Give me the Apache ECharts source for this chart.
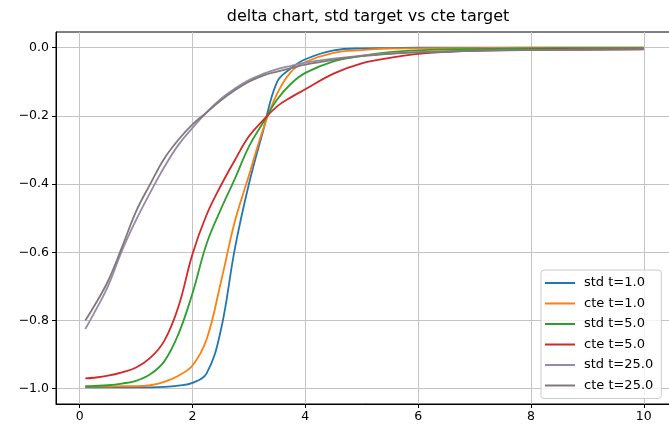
<!DOCTYPE html>
<html>
<head>
<meta charset="utf-8">
<script src="https://cdn.jsdelivr.net/npm/echarts@6/dist/echarts.min.js"></script>
<style>
  html, body { margin: 0; padding: 0; background: #fff; }
  #chart { width: 669px; height: 426px; }
</style>
</head>
<body>
<div id="chart"></div>
<script>
// Spot values along the x axis
const xs = [0.1, 0.25, 0.5, 0.75, 1.0, 1.25, 1.5, 1.75, 2.0, 2.25, 2.5, 2.75, 3.0, 3.25, 3.5, 3.75, 4.0, 4.5, 5.0, 5.5, 6.0, 7.0, 8.0, 9.0, 10.0];

// Delta curves for each target and horizon
const stdT1  = [-0.996, -0.996, -0.996, -0.996, -0.996, -0.996, -0.995, -0.991, -0.983, -0.955, -0.83, -0.59, -0.40, -0.245, -0.10, -0.06, -0.034, -0.008, -0.002, -0.001, 0, 0, 0, 0, 0];
const cteT1  = [-0.994, -0.994, -0.994, -0.993, -0.993, -0.99, -0.98, -0.962, -0.932, -0.855, -0.69, -0.51, -0.375, -0.24, -0.135, -0.07, -0.042, -0.015, -0.007, -0.003, -0.002, -0.001, 0, 0, 0];
const stdT5  = [-0.993, -0.992, -0.99, -0.985, -0.977, -0.958, -0.92, -0.84, -0.72, -0.575, -0.475, -0.385, -0.29, -0.22, -0.152, -0.105, -0.074, -0.04, -0.024, -0.013, -0.008, -0.004, -0.002, -0.001, -0.001];
const cteT5  = [-0.970, -0.968, -0.962, -0.952, -0.938, -0.91, -0.86, -0.76, -0.605, -0.49, -0.405, -0.33, -0.26, -0.213, -0.172, -0.145, -0.122, -0.076, -0.046, -0.03, -0.018, -0.009, -0.006, -0.005, -0.004];
const stdT25 = [-0.825, -0.78, -0.70, -0.595, -0.505, -0.425, -0.35, -0.285, -0.235, -0.19, -0.15, -0.12, -0.095, -0.077, -0.063, -0.053, -0.044, -0.032, -0.023, -0.017, -0.013, -0.009, -0.007, -0.006, -0.005];
const cteT25 = [-0.80, -0.76, -0.685, -0.585, -0.48, -0.40, -0.325, -0.27, -0.225, -0.19, -0.155, -0.125, -0.10, -0.082, -0.07, -0.06, -0.05, -0.036, -0.025, -0.018, -0.014, -0.009, -0.007, -0.006, -0.005];

const seriesNames = ['std t=1.0', 'cte t=1.0', 'std t=5.0', 'cte t=5.0', 'std t=25.0', 'cte t=25.0'];
const seriesValues = [stdT1, cteT1, stdT5, cteT5, stdT25, cteT25];
const seriesColors = ['#1f77b4', '#ff7f0e', '#2ca02c', '#d62728', '#978aa8', '#7f7a78'];

// Tick positions
const xTicks = [0, 2, 4, 6, 8, 10];
const yTicks = [-1.0, -0.8, -0.6, -0.4, -0.2, 0.0];

const fontFamily = 'DejaVu Sans';
const minus = v => String(v).replace('-', '\u2212');

const chart = echarts.init(document.getElementById('chart'), null, { renderer: 'canvas' });

chart.setOption({
  animation: false,
  backgroundColor: '#fff',
  title: {
    text: 'delta chart, std target vs cte target',
    left: 363,
    top: 4,
    textAlign: 'center',
    textStyle: { fontFamily, fontSize: 16, fontWeight: 'normal', color: '#000' }
  },
  grid: {
    left: 56, width: 616, top: 32, bottom: 22,
    show: true, borderColor: '#000', borderWidth: 1,
    containLabel: false,
    outerBoundsMode: 'none'
  },
  legend: {
    orient: 'vertical',
    left: 541, top: 270,
    padding: [6, 8, 6, 4],
    icon: 'rect',
    itemWidth: 30, itemHeight: 2, itemGap: 6.5,
    backgroundColor: 'rgba(255,255,255,0.8)',
    borderColor: '#cccccc', borderWidth: 1, borderRadius: 3,
    textStyle: { fontFamily, fontSize: 13, lineHeight: 14, color: '#000', padding: [0, 0, 0, 4] },
    data: seriesNames
  },
  xAxis: {
    type: 'value',
    min: -0.42, max: 10.5,
    axisLine: { show: true, onZero: false, lineStyle: { color: '#000', width: 1 } },
    axisTick: { show: true, length: 4, customValues: xTicks, lineStyle: { color: '#000' } },
    axisLabel: {
      customValues: xTicks, margin: 6,
      fontFamily, fontSize: 12.5, color: '#000',
      formatter: v => minus(Math.round(v))
    },
    splitLine: { show: true, lineStyle: { color: '#c4c4c4', width: 1 } }
  },
  yAxis: {
    type: 'value',
    min: -1.045, max: 0.046,
    axisLine: { show: true, onZero: false, lineStyle: { color: '#000', width: 1 } },
    axisTick: { show: true, length: 4, customValues: yTicks, lineStyle: { color: '#000' } },
    axisLabel: {
      customValues: yTicks, margin: 7,
      fontFamily, fontSize: 12.5, color: '#000',
      formatter: v => minus(v.toFixed(1))
    },
    splitLine: { show: true, lineStyle: { color: '#c4c4c4', width: 1 } }
  },
  series: seriesNames.map((name, i) => ({
    name,
    type: 'line',
    symbol: 'none',
    smooth: 0.4,
    color: seriesColors[i],
    lineStyle: { width: 1.8, color: seriesColors[i] },
    data: xs.map((x, k) => [x, seriesValues[i][k]])
  }))
});
</script>
</body>
</html>
